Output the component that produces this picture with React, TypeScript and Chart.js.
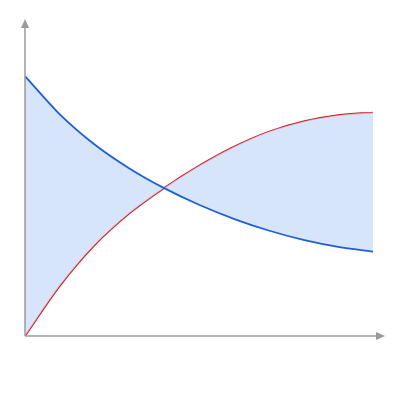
import React, { useEffect, useRef } from 'react';
import { Chart, registerables, type ChartConfiguration, type Plugin } from 'chart.js';

Chart.register(...registerables);

const xValues = [0, 1, 2, 3, 4, 5, 6, 7, 8, 9, 10];
const decreasing = [1.0, 0.853, 0.737, 0.645, 0.569, 0.505, 0.451, 0.406, 0.37, 0.343, 0.325];
const increasing = [0, 0.193, 0.35, 0.472, 0.57, 0.655, 0.728, 0.786, 0.826, 0.85, 0.86];

const AXIS_GREY = '#9a9a9a';

// draws the two axis lines with filled arrow heads
const arrowAxes: Plugin<'line'> = {
  id: 'arrowAxes',
  afterDatasetsDraw(chart) {
    const { ctx, chartArea } = chart;
    const x0 = chart.scales.x.getPixelForValue(0);
    const y0 = chart.scales.y.getPixelForValue(0);
    ctx.save();
    ctx.strokeStyle = AXIS_GREY;
    ctx.fillStyle = AXIS_GREY;
    ctx.lineWidth = 1.5;

    ctx.beginPath();
    ctx.moveTo(x0, y0);
    ctx.lineTo(x0, chartArea.top + 6);
    ctx.moveTo(x0, y0);
    ctx.lineTo(chartArea.right - 6, y0);
    ctx.stroke();

    ctx.beginPath();
    ctx.moveTo(x0, chartArea.top);
    ctx.lineTo(x0 - 4, chartArea.top + 9);
    ctx.lineTo(x0 + 4, chartArea.top + 9);
    ctx.closePath();
    ctx.fill();

    ctx.beginPath();
    ctx.moveTo(chartArea.right, y0);
    ctx.lineTo(chartArea.right - 9, y0 - 4);
    ctx.lineTo(chartArea.right - 9, y0 + 4);
    ctx.closePath();
    ctx.fill();
    ctx.restore();
  },
};

const App: React.FC = () => {
  const canvasRef = useRef<HTMLCanvasElement | null>(null);

  useEffect(() => {
    document.body.style.margin = '0';
    if (!canvasRef.current) return;

    const config: ChartConfiguration<'line'> = {
      type: 'line',
      data: {
        labels: xValues,
        datasets: [
          {
            data: xValues.map((x, i) => ({ x, y: decreasing[i] })),
            borderColor: '#1f5fd6',
            backgroundColor: 'rgba(205,222,250,0.8)',
            borderWidth: 1.8,
            pointRadius: 0,
            cubicInterpolationMode: 'monotone',
            fill: '+1',
          },
          {
            data: xValues.map((x, i) => ({ x, y: increasing[i] })),
            borderColor: '#d4161c',
            borderWidth: 1.8,
            pointRadius: 0,
            cubicInterpolationMode: 'monotone',
            fill: false,
          },
        ],
      },
      options: {
        animation: false,
        responsive: false,
        layout: { padding: { left: 25, right: 15, top: 19, bottom: 64 } },
        plugins: {
          legend: { display: false },
          tooltip: { enabled: false },
        },
        scales: {
          x: { type: 'linear', min: 0, max: 10.345, display: false },
          y: { type: 'linear', min: 0, max: 1.22, display: false },
        },
      },
      plugins: [arrowAxes],
    };

    const chart = new Chart(canvasRef.current, config);
    return () => chart.destroy();
  }, []);

  return (
    <div style={{ width: 400, height: 400 }}>
      <canvas ref={canvasRef} width={400} height={400} />
    </div>
  );
};

export default App;
